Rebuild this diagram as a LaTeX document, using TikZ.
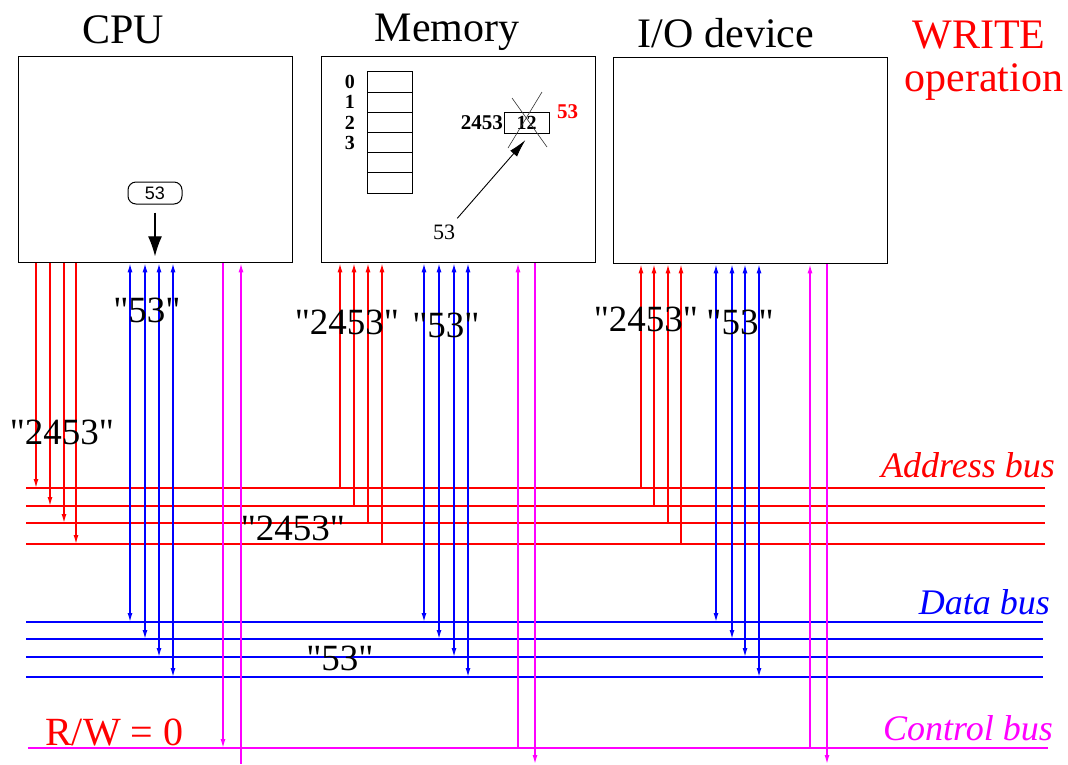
\documentclass[tikz,border=0pt]{standalone}
\usepackage{fontspec}
\setmainfont{Liberation Serif}
\newfontfamily\regfont{Liberation Sans}
\newfontfamily\valfont{Liberation Serif}
\usetikzlibrary{arrows.meta,positioning,calc}
\definecolor{mgnt}{RGB}{255,0,255}

\begin{document}
\begin{tikzpicture}[x=1pt, y=-1pt, >={Latex[length=9pt,width=5pt]},
  unit/.style={draw, line width=1.3pt, minimum width=274pt, minimum height=206pt, anchor=north west, inner sep=0pt},
  title/.style={font=\fontsize{42}{48}\selectfont, anchor=base, inner sep=0pt},
  val/.style={font=\valfont\fontsize{37}{42}\selectfont, inner sep=0pt},
  buslabel/.style={font=\fontsize{36}{42}\selectfont\itshape, anchor=base east, inner sep=0pt},
  cell/.style={draw, line width=1pt, minimum width=45pt, minimum height=20.2pt, inner sep=0pt, outer sep=0pt},
  small/.style={font=\fontsize{20}{22}\selectfont\bfseries, inner sep=0pt},
  abus/.style={red, line width=1.4pt}, dbus/.style={blue, line width=1.4pt}, cbus/.style={mgnt, line width=1.4pt},
  bigtip/.style={-{Latex[length=20pt,width=14pt]}, line width=1.2pt}]
\useasboundingbox (0,0) rectangle (1068,764);
\coordinate (bot) at (0,764);

\node[unit] (cpu) at (18,56) {};
\node[unit] (mem) at (321,56) {};
\node[unit] (io) at (613,57) {};
\node[title] (cputitle) at (123,43) {CPU};
\node[title] (memtitle) at (447,41) {Memory};
\node[title] (iotitle) at (726,47) {I/O device};
\node[title, red] (wr) at (979,48) {WRITE};
\node[title, red] (op) at (984,91) {operation};

% CPU register
\node[draw, line width=1pt, rounded corners=8pt, minimum width=54pt, minimum height=22pt, inner sep=0pt, font=\regfont\fontsize{18}{20}\selectfont] (reg) at (155,193) {53};
\draw[bigtip, shorten <=8pt, shorten >=7pt] (reg) -- (reg |- cpu.south);

% memory cells
\node[cell] (m0) at (389.5,82) {};
\foreach \i [remember=\i as \j (initially 0)] in {1,...,5} \node[cell, below=0pt of m\j] (m\i) {};
\foreach \i in {0,...,3} \node[small, left=12pt of m\i] (n\i) {\i};
\node[cell, minimum height=21pt, font=\fontsize{20}{22}\selectfont\bfseries] (tgt) at (526.5,122.5) {12};
\node[small, font=\fontsize{21}{22}\selectfont\bfseries, left=1pt of tgt] (addr) {2453};
\node[small, red, font=\fontsize{21}{22}\selectfont\bfseries, right=8pt of tgt.north east] (newred) {53};
\draw[line width=0.6pt, black!80] ($(tgt)+(-14.5,-24.5)$) -- ($(tgt)+(20.5,24.5)$);
\draw[line width=0.6pt, black!80] ($(tgt)+(15.5,-30.5)$) -- ($(tgt)+(-18.5,25.5)$);
\node[inner sep=0pt, font=\fontsize{22}{24}\selectfont] (newval) at (444,232) {53};
\draw[-{Latex[length=18pt,width=9pt]}, line width=0.9pt] ($(newval.north east)+(2,-6)$) -- ($(tgt.south)+(-1,7)$);

% buses
\foreach \y [count=\i] in {488,506,523,544} \draw[abus] (26,\y) coordinate (a\i) -- (1045,\y);
\foreach \y [count=\i] in {622,639,657,677} \draw[dbus] (26,\y) coordinate (d\i) -- (1043,\y);
\draw[cbus] (28,748) coordinate (c) -- (1048,748);

% CPU wires
\foreach \x [count=\i] in {36,50,64,76} \draw[abus,->] (\x,0 |- cpu.south) -- (\x,0 |- a\i);
\foreach \x [count=\i] in {130,145,159,173} \draw[dbus,<->] (\x,0 |- cpu.south) -- (\x,0 |- d\i);
\draw[cbus,->] (223,0 |- cpu.south) -- (223,0 |- c);
\draw[cbus,<-] (241,0 |- cpu.south) -- (241,0 |- bot);

% memory wires
\foreach \x [count=\i] in {340,354,368,382} \draw[abus,<-] (\x,0 |- mem.south) -- (\x,0 |- a\i);
\foreach \x [count=\i] in {424,439,454,468} \draw[dbus,<->] (\x,0 |- mem.south) -- (\x,0 |- d\i);
\draw[cbus,<-] (518,0 |- mem.south) -- (518,0 |- c);
\draw[cbus,->] (535,0 |- mem.south) -- (535,0 |- bot);

% I/O wires
\foreach \x [count=\i] in {641,654,668,681} \draw[abus,<-] (\x,0 |- io.south) -- (\x,0 |- a\i);
\foreach \x [count=\i] in {716,732,745,759} \draw[dbus,<->] (\x,0 |- io.south) -- (\x,0 |- d\i);
\draw[cbus,<-] (810,0 |- io.south) -- (810,0 |- c);
\draw[cbus,->] (827,0 |- io.south) -- (827,0 |- bot);

% values on the wires
\node[val] (v1) at (147,310) {"53"};
\node[val] (v2) at (62,432) {"2453"};
\node[val] (v3) at (347,322) {"2453"};
\node[val] (v4) at (446,325) {"53"};
\node[val] (v5) at (293,528) {"2453"};
\node[val] (v6) at (646,319) {"2453"};
\node[val] (v7) at (740,322) {"53"};
\node[val] (v8) at (340,658) {"53"};
\node[red, inner sep=0pt, font=\fontsize{40}{44}\selectfont, anchor=base west] (rw) at (45,745) {R/W = 0};

\node[buslabel, red] (abl) at (1055,477) {Address bus};
\node[buslabel, blue] (dbl) at (1050,614) {Data bus};
\node[buslabel, mgnt] (cbl) at (1053,740) {Control bus};
\end{tikzpicture}
\end{document}
